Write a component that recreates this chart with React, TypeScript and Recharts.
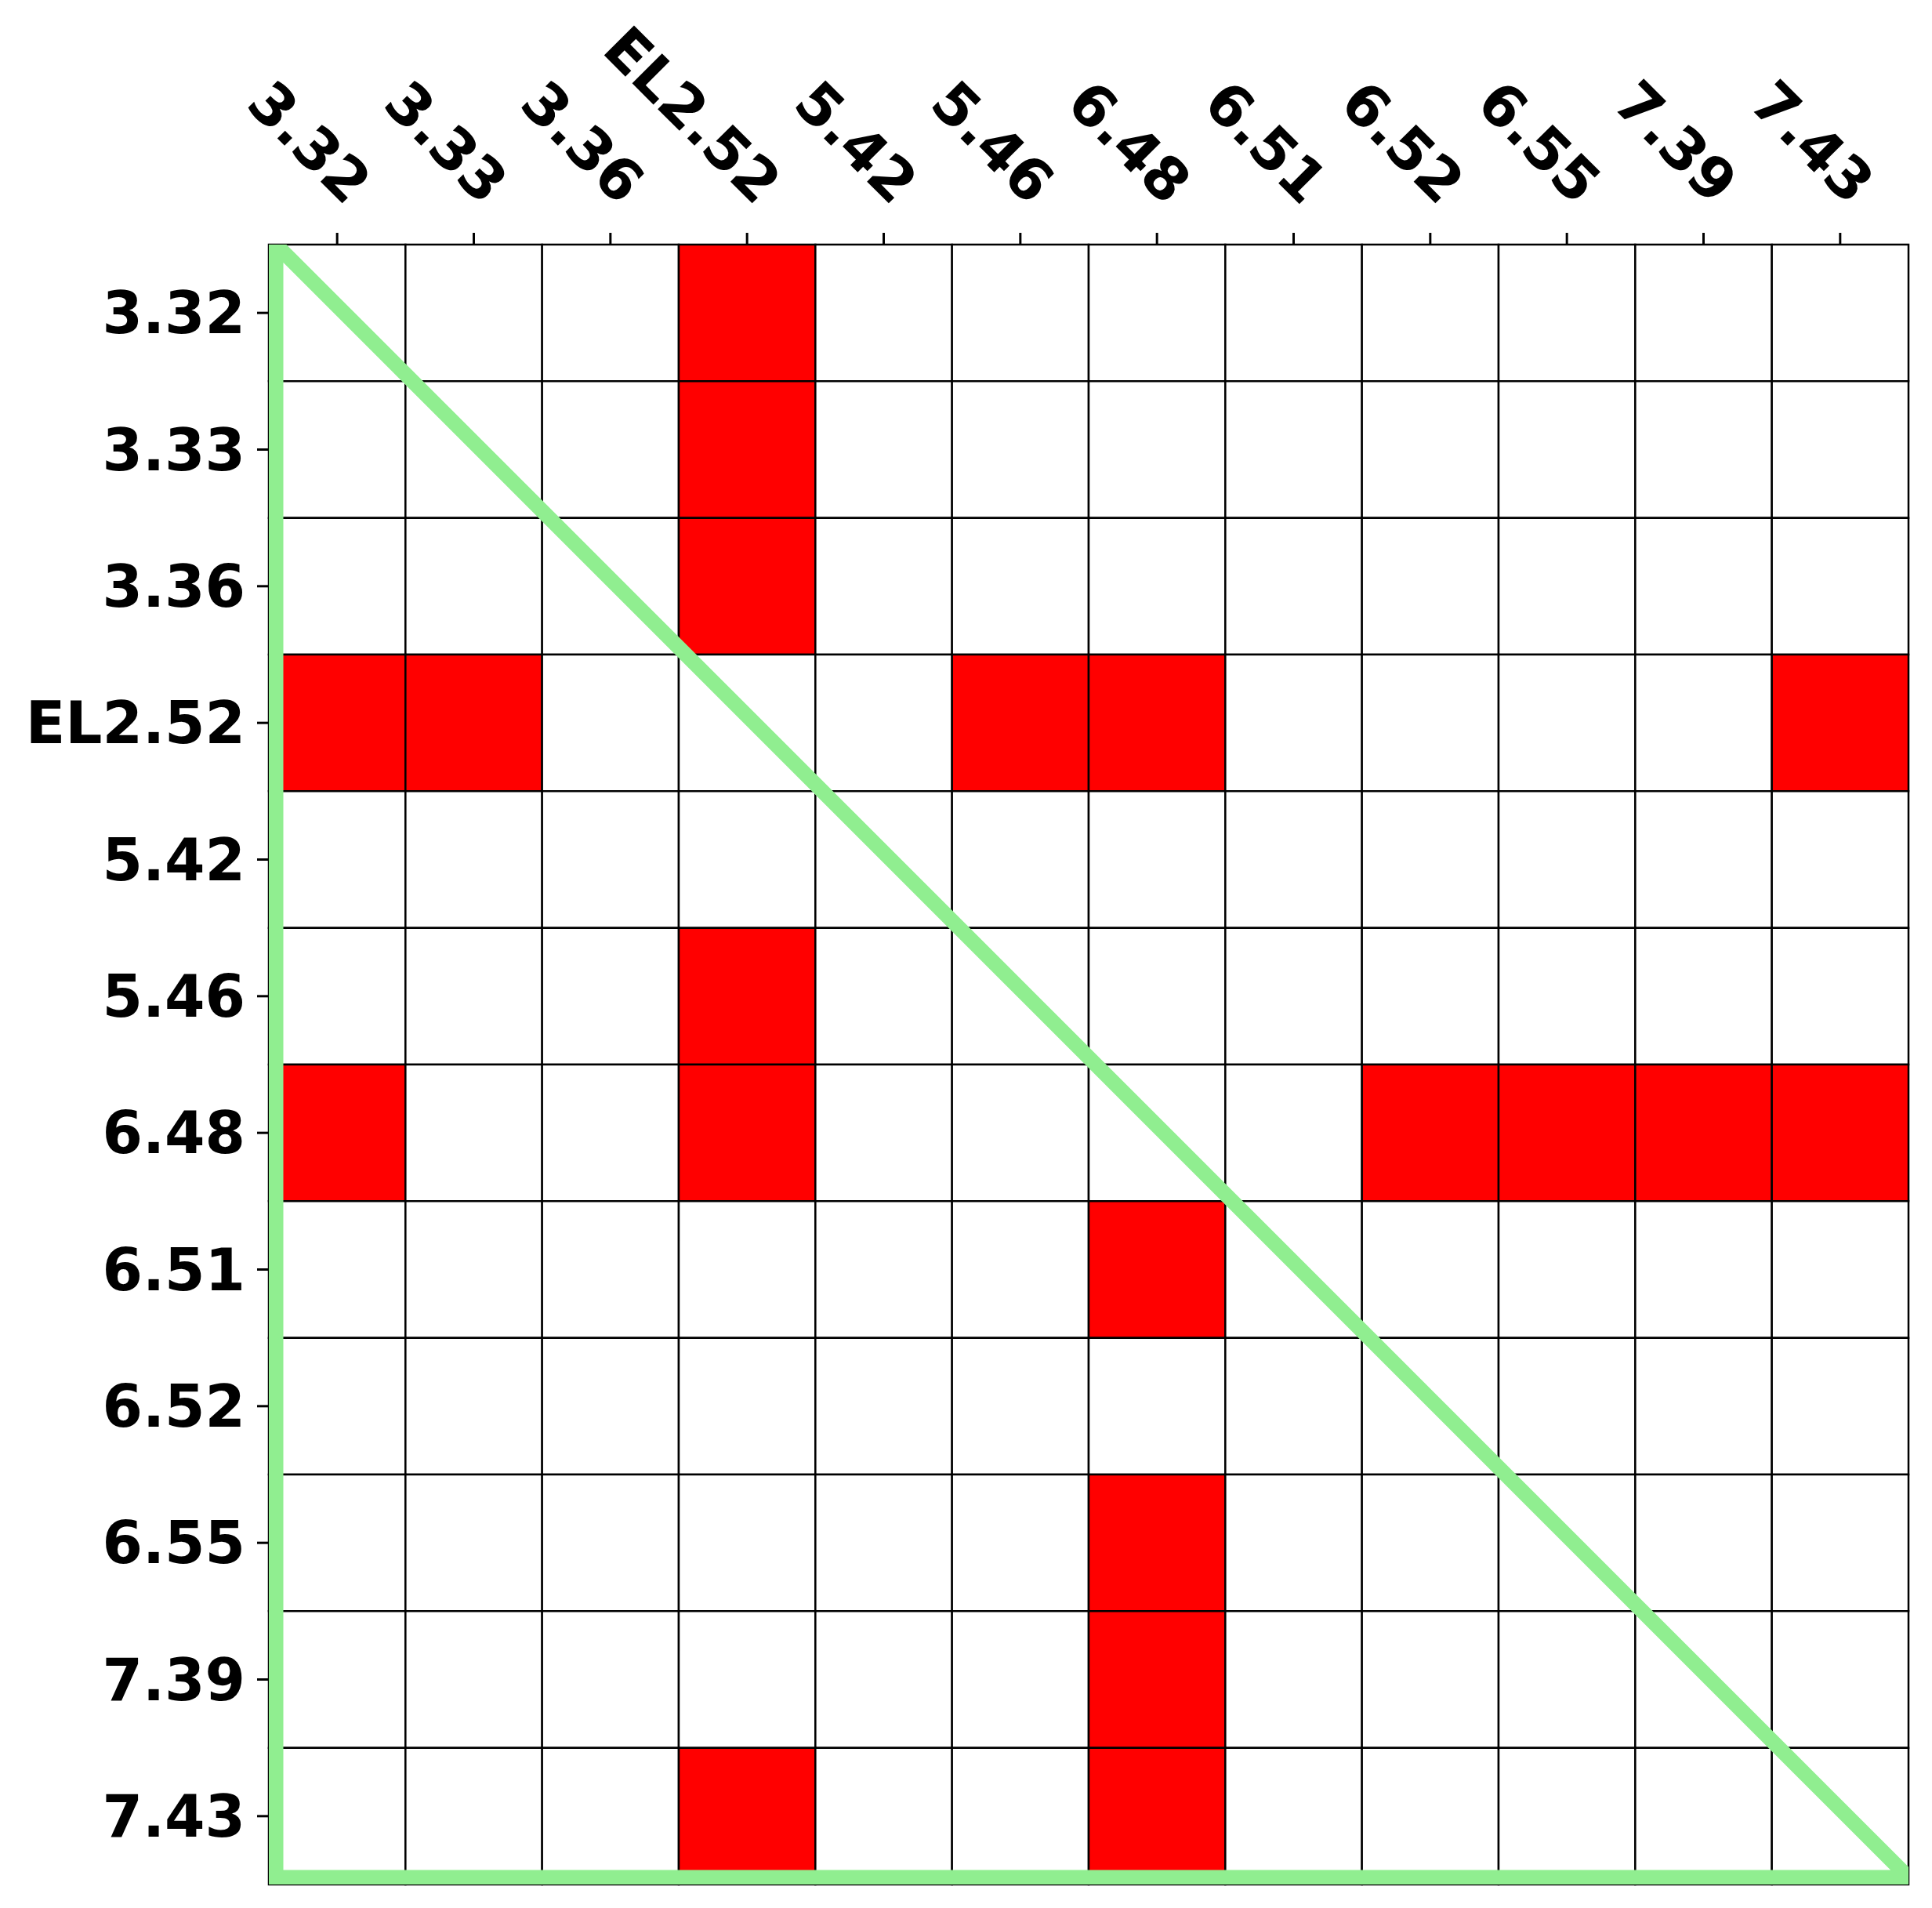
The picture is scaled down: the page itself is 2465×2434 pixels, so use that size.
import React from 'react'
import { ComposedChart, XAxis, YAxis, ReferenceArea, Scatter } from 'recharts'

const labels = ['3.32', '3.33', '3.36', 'EL2.52', '5.42', '5.46', '6.48', '6.51', '6.52', '6.55', '7.39', '7.43']

// one row per y label, one column per x label; 1 = red cell
const row332 = [0, 0, 0, 1, 0, 0, 0, 0, 0, 0, 0, 0]
const row333 = [0, 0, 0, 1, 0, 0, 0, 0, 0, 0, 0, 0]
const row336 = [0, 0, 0, 1, 0, 0, 0, 0, 0, 0, 0, 0]
const rowEL252 = [1, 1, 0, 0, 0, 1, 1, 0, 0, 0, 0, 1]
const row542 = [0, 0, 0, 0, 0, 0, 0, 0, 0, 0, 0, 0]
const row546 = [0, 0, 0, 1, 0, 0, 0, 0, 0, 0, 0, 0]
const row648 = [1, 0, 0, 1, 0, 0, 0, 0, 1, 1, 1, 1]
const row651 = [0, 0, 0, 0, 0, 0, 1, 0, 0, 0, 0, 0]
const row652 = [0, 0, 0, 0, 0, 0, 0, 0, 0, 0, 0, 0]
const row655 = [0, 0, 0, 0, 0, 0, 1, 0, 0, 0, 0, 0]
const row739 = [0, 0, 0, 0, 0, 0, 1, 0, 0, 0, 0, 0]
const row743 = [0, 0, 0, 1, 0, 0, 1, 0, 0, 0, 0, 0]

const matrix = [row332, row333, row336, rowEL252, row542, row546, row648, row651, row652, row655, row739, row743]

const tickValues = labels.map((_, i) => i + 0.5)

const cells = matrix.flatMap((row, r) => row.map((v, c) => ({ x: c + 0.5, y: r + 0.5, row: r, col: c, value: v })))

const FONT = '"DejaVu Sans", sans-serif'
const FONT_SIZE = 74

const XTick = (props: any) => {
  const { x, y, payload } = props
  return (
    <text
      transform={`translate(${x + 11},${y - 33}) rotate(45)`}
      textAnchor="end"
      fontFamily={FONT}
      fontWeight="bold"
      fontSize={FONT_SIZE}
      fill="#000"
    >
      {labels[Math.floor(payload.value)]}
    </text>
  )
}

const YTick = (props: any) => {
  const { x, y, payload } = props
  return (
    <text x={x} y={y} dy="0.355em" textAnchor="end" fontFamily={FONT} fontWeight="bold" fontSize={FONT_SIZE} fill="#000">
      {labels[Math.floor(payload.value)]}
    </text>
  )
}

// green triangle outline, clipped to the plot
const Triangle = (props: any) => {
  const { x, y, width, height } = props
  const inset = 9
  const pts = `${x + inset},${y} ${x + inset},${y + height - inset} ${x + width},${y + height - inset}`
  return (
    <g>
      <defs>
        <clipPath id="triangle-clip">
          <rect x={x} y={y} width={width} height={height} />
        </clipPath>
      </defs>
      <polygon
        points={pts}
        fill="none"
        stroke="#90ee90"
        strokeWidth={19}
        strokeLinejoin="miter"
        clipPath="url(#triangle-clip)"
      />
    </g>
  )
}

const App = () => {
  const n = labels.length

  const renderCells = () => cells.map((d) => (
    <ReferenceArea
      key={`cell-${d.row}-${d.col}`}
      x1={d.col}
      x2={d.col + 1}
      y1={d.row}
      y2={d.row + 1}
      fill={d.value ? '#ff0000' : '#ffffff'}
      fillOpacity={1}
      stroke="#000"
      strokeWidth={2.5}
    />
  ))

  return (
    <ComposedChart width={2457} height={2426} margin={{ top: 4, right: 30, bottom: 30, left: 35 }} data={cells}>
      <XAxis
        type="number"
        dataKey="x"
        orientation="top"
        domain={[0, n]}
        ticks={tickValues}
        height={300}
        axisLine={false}
        stroke="#000"
        tickSize={15}
        tickMargin={0}
        tickLine={{ stroke: '#000', strokeWidth: 3 }}
        tick={<XTick />}
        interval={0}
        allowDataOverflow
      />
      <YAxis
        type="number"
        dataKey="y"
        reversed
        domain={[0, n]}
        ticks={tickValues}
        width={300}
        axisLine={false}
        stroke="#000"
        tickSize={15}
        tickMargin={15}
        tickLine={{ stroke: '#000', strokeWidth: 3 }}
        tick={<YTick />}
        interval={0}
        allowDataOverflow
      />
      {renderCells()}
      <Scatter dataKey="y" fill="none" shape={() => <g />} isAnimationActive={false} />
      <ReferenceArea x1={0} x2={n} y1={0} y2={n} fillOpacity={1} shape={<Triangle />} />
    </ComposedChart>
  )
}

export default App
